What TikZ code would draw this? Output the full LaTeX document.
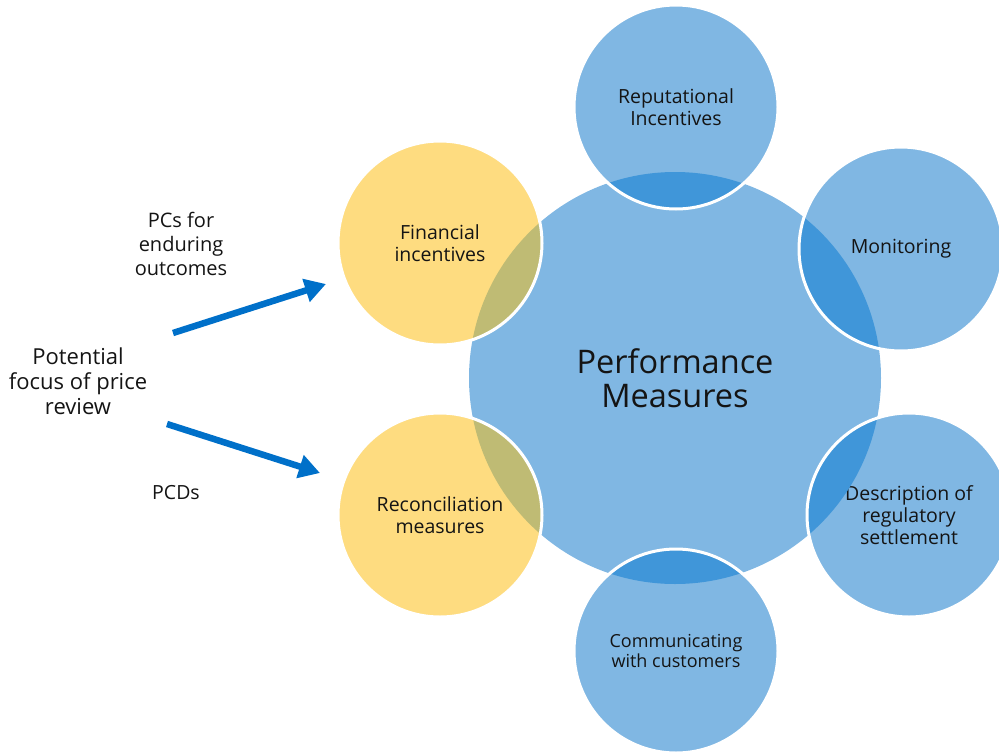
\documentclass[tikz,border=0pt]{standalone}
\usepackage{fontspec}
\setmainfont{Open Sans}
\usetikzlibrary{arrows.meta}
\definecolor{bubble}{RGB}{128,183,227}
\definecolor{bubbledark}{RGB}{64,150,217}
\definecolor{gold}{RGB}{254,220,128}
\definecolor{olive}{RGB}{191,187,116}
\definecolor{arrowblue}{RGB}{0,112,201}
\definecolor{ink}{RGB}{20,20,20}
\begin{document}
\begin{tikzpicture}[x=1pt,y=-1pt,
  hub/.style={circle,minimum size=412pt,inner sep=0pt,fill=bubble,text=ink,align=center,
    font=\fontsize{32.5}{34}\selectfont},
  petal/.style={circle,minimum size=204pt,inner sep=0pt,fill=bubble,text=ink,align=center,
    font=\fontsize{19.5}{22}\selectfont},
  goldpetal/.style={petal,fill=gold},
  rim/.style={draw=white,line width=3pt},
  label/.style={text=ink,align=center,font=\fontsize{20}{24}\selectfont},
  pointer/.style={draw=arrowblue,line width=6.5pt,-{Triangle[length=21pt,width=23pt]}}]
\useasboundingbox (0,0) rectangle (999,755);

% central hub
\node[hub] (pm) at (675,378) {Performance\\Measures};

% surrounding circles
\node[petal] (rep) at (676,107) {Reputational\\Incentives};
\node[petal] (mon) at (901,249) {Monitoring};
\node[petal] (desc) at (909,515) {Description of\\regulatory\\settlement};
\node[petal,font=\fontsize{18}{20.5}\selectfont] (comm) at (676,651) {Communicating\\with customers};
\node[goldpetal] (fin) at (440,243) {Financial\\incentives};
\node[goldpetal] (rec) at (440,515) {Reconciliation\\measures};

% overlaps with the hub
\foreach \c/\col in {rep/bubbledark,mon/bubbledark,desc/bubbledark,comm/bubbledark,fin/olive,rec/olive}{
  \begin{scope}
    \clip (pm.center) circle[radius=206];
    \fill[\col] (\c.center) circle[radius=102];
  \end{scope}
  \draw[rim] (\c.center) circle[radius=102];
}

% labels on the left
\node[label,font=\fontsize{22}{25}\selectfont] (focus) at (78,381) {Potential\\focus of price\\review};
\node[label] (pcs) at (181,244) {PCs for\\enduring\\outcomes};
\node[label,font=\fontsize{19.5}{22}\selectfont] (pcd) at (176,493) {PCDs};

% arrows
\coordinate (upfrom) at (173,333);
\coordinate (upto) at (326,284);
\coordinate (downfrom) at (167,424);
\coordinate (downto) at (320,473);
\draw[pointer] (upfrom) -- (upto);
\draw[pointer] (downfrom) -- (downto);
\end{tikzpicture}
\end{document}
